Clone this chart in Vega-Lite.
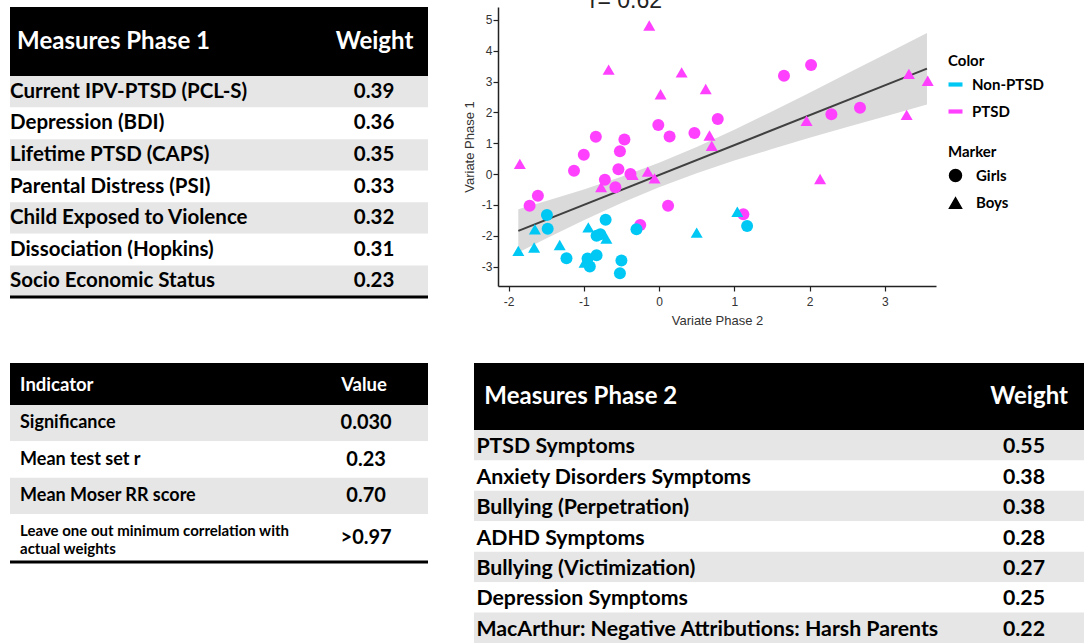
{
  "$schema": "https://vega.github.io/schema/vega-lite/v6.json",
  "padding": {"left": 8, "top": -11, "right": 0, "bottom": 0},
  "autosize": {"type": "pad"},
  "background": "white",
  "config": {"view": {"stroke": null}, "font": "Lato", "axis": {"labelOverlap": false}, "axisY": {"labelOverlap": false}},
  "datasets": {
    "t1": [
      {"row": 1, "measure": "Current IPV-PTSD (PCL-S)", "weight": 0.39},
      {"row": 2, "measure": "Depression (BDI)", "weight": 0.36},
      {"row": 3, "measure": "Lifetime PTSD (CAPS)", "weight": 0.35},
      {"row": 4, "measure": "Parental Distress (PSI)", "weight": 0.33},
      {"row": 5, "measure": "Child Exposed to Violence", "weight": 0.32},
      {"row": 6, "measure": "Dissociation (Hopkins)", "weight": 0.31},
      {"row": 7, "measure": "Socio Economic Status", "weight": 0.23}
    ],
    "t2": [
      {"row": 1, "indicator": "Significance", "value": "0.030"},
      {"row": 2, "indicator": "Mean test set r", "value": "0.23"},
      {"row": 3, "indicator": "Mean Moser RR score", "value": "0.70"}
    ],
    "t2last": [
      {"row": 4, "indicator": "Leave one out minimum correlation with\nactual weights", "value": ">0.97"}
    ],
    "t3": [
      {"row": 1, "measure": "PTSD Symptoms", "weight": 0.55},
      {"row": 2, "measure": "Anxiety Disorders Symptoms", "weight": 0.38},
      {"row": 3, "measure": "Bullying (Perpetration)", "weight": 0.38},
      {"row": 4, "measure": "ADHD Symptoms", "weight": 0.28},
      {"row": 5, "measure": "Bullying (Victimization)", "weight": 0.27},
      {"row": 6, "measure": "Depression Symptoms", "weight": 0.25},
      {"row": 7, "measure": "MacArthur: Negative Attributions: Harsh Parents", "weight": 0.22}
    ],
    "band": [
      {"x": -1.87, "lo": -2.54, "hi": -1.14},
      {"x": -1.5, "lo": -2.09, "hi": -0.87},
      {"x": -1.0, "lo": -1.50, "hi": -0.50},
      {"x": -0.5, "lo": -0.94, "hi": -0.09},
      {"x": 0.0, "lo": -0.43, "hi": 0.37},
      {"x": 0.5, "lo": 0.03, "hi": 0.88},
      {"x": 1.0, "lo": 0.44, "hi": 1.44},
      {"x": 1.5, "lo": 0.81, "hi": 2.03},
      {"x": 2.0, "lo": 1.18, "hi": 2.64},
      {"x": 2.5, "lo": 1.53, "hi": 3.26},
      {"x": 3.0, "lo": 1.87, "hi": 3.88},
      {"x": 3.56, "lo": 2.26, "hi": 4.58}
    ],
    "fit": [
      {"x": -1.87, "y": -1.84},
      {"x": 3.56, "y": 3.42}
    ],
    "pts": [
      {"x": -0.13, "y": 4.82, "group": "PTSD", "sex": "Boys"},
      {"x": -0.67, "y": 3.39, "group": "PTSD", "sex": "Boys"},
      {"x": 0.30, "y": 3.30, "group": "PTSD", "sex": "Boys"},
      {"x": 0.02, "y": 2.59, "group": "PTSD", "sex": "Boys"},
      {"x": 0.62, "y": 2.76, "group": "PTSD", "sex": "Boys"},
      {"x": 0.67, "y": 1.25, "group": "PTSD", "sex": "Boys"},
      {"x": 0.70, "y": 0.92, "group": "PTSD", "sex": "Boys"},
      {"x": -1.85, "y": 0.33, "group": "PTSD", "sex": "Boys"},
      {"x": -0.15, "y": 0.08, "group": "PTSD", "sex": "Boys"},
      {"x": -0.06, "y": -0.14, "group": "PTSD", "sex": "Boys"},
      {"x": -0.35, "y": -0.02, "group": "PTSD", "sex": "Boys"},
      {"x": -0.77, "y": -0.42, "group": "PTSD", "sex": "Boys"},
      {"x": 1.96, "y": 1.73, "group": "PTSD", "sex": "Boys"},
      {"x": 3.32, "y": 3.25, "group": "PTSD", "sex": "Boys"},
      {"x": 3.57, "y": 3.03, "group": "PTSD", "sex": "Boys"},
      {"x": 3.29, "y": 1.92, "group": "PTSD", "sex": "Boys"},
      {"x": 2.14, "y": -0.16, "group": "PTSD", "sex": "Boys"},
      {"x": 1.66, "y": 3.19, "group": "PTSD", "sex": "Girls"},
      {"x": 2.02, "y": 3.54, "group": "PTSD", "sex": "Girls"},
      {"x": 2.29, "y": 1.94, "group": "PTSD", "sex": "Girls"},
      {"x": 2.67, "y": 2.15, "group": "PTSD", "sex": "Girls"},
      {"x": 0.78, "y": 1.79, "group": "PTSD", "sex": "Girls"},
      {"x": 0.47, "y": 1.33, "group": "PTSD", "sex": "Girls"},
      {"x": -0.01, "y": 1.59, "group": "PTSD", "sex": "Girls"},
      {"x": 0.14, "y": 1.22, "group": "PTSD", "sex": "Girls"},
      {"x": -0.84, "y": 1.21, "group": "PTSD", "sex": "Girls"},
      {"x": -0.46, "y": 1.12, "group": "PTSD", "sex": "Girls"},
      {"x": -1.00, "y": 0.63, "group": "PTSD", "sex": "Girls"},
      {"x": -0.52, "y": 0.74, "group": "PTSD", "sex": "Girls"},
      {"x": -1.13, "y": 0.11, "group": "PTSD", "sex": "Girls"},
      {"x": -0.54, "y": 0.16, "group": "PTSD", "sex": "Girls"},
      {"x": -0.38, "y": 0.0, "group": "PTSD", "sex": "Girls"},
      {"x": -0.72, "y": -0.18, "group": "PTSD", "sex": "Girls"},
      {"x": -0.58, "y": -0.43, "group": "PTSD", "sex": "Girls"},
      {"x": -1.61, "y": -0.70, "group": "PTSD", "sex": "Girls"},
      {"x": -1.72, "y": -1.03, "group": "PTSD", "sex": "Girls"},
      {"x": 0.12, "y": -1.03, "group": "PTSD", "sex": "Girls"},
      {"x": 1.12, "y": -1.30, "group": "PTSD", "sex": "Girls"},
      {"x": -0.25, "y": -1.65, "group": "PTSD", "sex": "Girls"},
      {"x": -1.49, "y": -1.33, "group": "Non-PTSD", "sex": "Girls"},
      {"x": -1.48, "y": -1.77, "group": "Non-PTSD", "sex": "Girls"},
      {"x": -0.71, "y": -1.48, "group": "Non-PTSD", "sex": "Girls"},
      {"x": -0.30, "y": -1.79, "group": "Non-PTSD", "sex": "Girls"},
      {"x": -0.83, "y": -2.00, "group": "Non-PTSD", "sex": "Girls"},
      {"x": -0.78, "y": -1.95, "group": "Non-PTSD", "sex": "Girls"},
      {"x": -1.23, "y": -2.73, "group": "Non-PTSD", "sex": "Girls"},
      {"x": -0.95, "y": -2.74, "group": "Non-PTSD", "sex": "Girls"},
      {"x": -0.83, "y": -2.63, "group": "Non-PTSD", "sex": "Girls"},
      {"x": -0.92, "y": -3.00, "group": "Non-PTSD", "sex": "Girls"},
      {"x": -0.50, "y": -2.80, "group": "Non-PTSD", "sex": "Girls"},
      {"x": -0.52, "y": -3.22, "group": "Non-PTSD", "sex": "Girls"},
      {"x": 1.17, "y": -1.68, "group": "Non-PTSD", "sex": "Girls"},
      {"x": -1.65, "y": -1.79, "group": "Non-PTSD", "sex": "Boys"},
      {"x": -1.87, "y": -2.49, "group": "Non-PTSD", "sex": "Boys"},
      {"x": -1.66, "y": -2.38, "group": "Non-PTSD", "sex": "Boys"},
      {"x": -1.32, "y": -2.30, "group": "Non-PTSD", "sex": "Boys"},
      {"x": -0.94, "y": -1.73, "group": "Non-PTSD", "sex": "Boys"},
      {"x": -0.70, "y": -2.09, "group": "Non-PTSD", "sex": "Boys"},
      {"x": -0.99, "y": -2.87, "group": "Non-PTSD", "sex": "Boys"},
      {"x": 0.50, "y": -1.90, "group": "Non-PTSD", "sex": "Boys"},
      {"x": 1.04, "y": -1.22, "group": "Non-PTSD", "sex": "Boys"}
    ]
  },
  "spacing": 36,
  "vconcat": [
    {
      "spacing": 33,
      "hconcat": [
        {
          "spacing": 0,
          "vconcat": [
            {
              "width": 418, "height": 69,
              "view": {"fill": "#000000", "stroke": null},
              "data": {"values": [{"a": "Measures Phase 1", "b": "Weight"}]},
              "layer": [
                {"mark": {"type": "text", "align": "left", "font": "Lato", "fontWeight": "bold", "fontSize": 24, "color": "#ffffff"},
                 "encoding": {"x": {"datum": 0.017, "type": "quantitative", "scale": {"domain": [0, 1]}, "axis": null}, "text": {"field": "a"}}},
                {"mark": {"type": "text", "align": "center", "font": "Lato", "fontWeight": "bold", "fontSize": 24, "color": "#ffffff"},
                 "encoding": {"x": {"datum": 0.872, "type": "quantitative"}, "text": {"field": "b"}}}
              ]
            },
            {
              "width": 418, "height": 221,
              "data": {"name": "t1"},
              "encoding": {"y": {"field": "row", "type": "ordinal", "axis": null, "scale": {"paddingInner": 0, "paddingOuter": 0}}},
              "layer": [
                {"mark": {"type": "rect"},
                 "encoding": {"fill": {"condition": {"test": "datum.row % 2 == 1", "value": "#e6e6e6"}, "value": "#ffffff"}}},
                {"mark": {"type": "text", "align": "left", "font": "Lato", "fontWeight": "bold", "fontSize": 20.5, "color": "#000000"},
                 "encoding": {"x": {"datum": 0.0, "type": "quantitative", "scale": {"domain": [0, 1]}, "axis": null}, "text": {"field": "measure"}}},
                {"mark": {"type": "text", "align": "center", "font": "Lato", "fontWeight": "bold", "fontSize": 20.5, "color": "#000000"},
                 "encoding": {"x": {"datum": 0.871, "type": "quantitative"}, "text": {"field": "weight", "format": ".2f"}}},
                {"transform": [{"filter": "datum.row == 7"}],
                 "mark": {"type": "rule", "strokeWidth": 3, "color": "#000000"},
                 "encoding": {"y": {"field": "row", "type": "ordinal", "bandPosition": 1}}}
              ]
            }
          ]
        },
        {
          "width": 438, "height": 279,
          "view": {"stroke": null},
          "layer": [
            {"data": {"name": "band"},
             "mark": {"type": "area", "color": "#dadada", "opacity": 1},
             "encoding": {
               "x": {"field": "x", "type": "quantitative", "scale": {"domain": [-2.14, 3.68], "nice": false, "zero": false},
                     "axis": {"title": "Variate Phase 2", "values": [-2, -1, 0, 1, 2, 3], "labelExpr": "'' + datum.value", "labelOverlap": false, "grid": false, "domainColor": "#222222", "domainWidth": 1.5, "tickColor": "#222222", "tickSize": 5, "tickWidth": 1.2, "labelFont": "Liberation Sans", "labelFontSize": 12, "labelColor": "#333333", "labelPadding": 5, "titleFont": "Liberation Sans", "titleFontSize": 13, "titleFontWeight": "normal", "titleColor": "#333333", "titlePadding": 7}},
               "y": {"field": "lo", "type": "quantitative", "scale": {"domain": [-3.63, 5.42], "nice": false, "zero": false},
                     "axis": {"title": "Variate Phase 1", "values": [-3, -2, -1, 0, 1, 2, 3, 4, 5], "tickCount": 9, "labelExpr": "'' + datum.value", "labelOverlap": false, "labelSeparation": 0, "grid": false, "domainColor": "#222222", "domainWidth": 1.5, "tickColor": "#222222", "tickSize": 5, "tickWidth": 1.2, "labelFont": "Liberation Sans", "labelFontSize": 12, "labelColor": "#333333", "labelPadding": 1, "titleFont": "Liberation Sans", "titleFontSize": 13, "titleFontWeight": "normal", "titleColor": "#333333", "titlePadding": 5}},
               "y2": {"field": "hi"}
             }},
            {"data": {"name": "fit"},
             "mark": {"type": "line", "color": "#404040", "strokeWidth": 2},
             "encoding": {"x": {"field": "x", "type": "quantitative"}, "y": {"field": "y", "type": "quantitative"}}},
            {"data": {"name": "pts"},
             "mark": {"type": "point", "filled": true, "size": 144, "opacity": 1},
             "encoding": {
               "x": {"field": "x", "type": "quantitative"},
               "y": {"field": "y", "type": "quantitative"},
               "color": {"field": "group", "type": "nominal", "scale": {"domain": ["Non-PTSD", "PTSD"], "range": ["#00c8f5", "#ff40ff"]},
                         "legend": {"title": "Color", "orient": "none", "legendX": 938, "legendY": 47, "padding": 0, "symbolType": "M-1,-0.3H1V0.3H-1Z", "symbolSize": 196, "symbolStrokeWidth": 0, "labelFont": "Lato", "labelFontWeight": "bold", "labelFontSize": 15, "labelColor": "#000000", "titleFont": "Lato", "titleFontWeight": "bold", "titleFontSize": 15, "titleColor": "#000000", "labelOffset": 9, "rowPadding": 11, "titlePadding": 8}},
               "shape": {"field": "sex", "type": "nominal", "scale": {"domain": ["Girls", "Boys"], "range": ["circle", "triangle-up"]},
                         "legend": {"title": "Marker", "orient": "none", "legendX": 938, "legendY": 138, "padding": 0, "symbolSize": 144, "symbolFillColor": "#000000", "symbolStrokeColor": "#000000", "labelFont": "Lato", "labelFontWeight": "bold", "labelFontSize": 15, "labelColor": "#000000", "titleFont": "Lato", "titleFontWeight": "bold", "titleFontSize": 15, "titleColor": "#000000", "labelOffset": 13, "rowPadding": 9.5, "titlePadding": 8,
                                    "encode": {"symbols": {"update": {"fill": {"value": "#000000"}, "stroke": {"value": "#000000"}}}}}}
             }},
            {"data": {"values": [{"label": "r= 0.62"}]},
             "mark": {"type": "text", "font": "Liberation Sans", "fontSize": 23, "baseline": "alphabetic", "align": "center", "color": "#222222"},
             "encoding": {"x": {"datum": -0.44, "type": "quantitative"}, "y": {"datum": 5.4, "type": "quantitative"}, "text": {"field": "label"}}}
          ]
        }
      ]
    },
    {
      "spacing": 44,
      "hconcat": [
        {
          "spacing": 0,
          "vconcat": [
            {
              "width": 418, "height": 42,
              "view": {"fill": "#000000", "stroke": null},
              "data": {"values": [{"a": "Indicator", "b": "Value"}]},
              "layer": [
                {"mark": {"type": "text", "align": "left", "font": "Lato", "fontWeight": "bold", "fontSize": 18.5, "color": "#ffffff", "dy": 1},
                 "encoding": {"x": {"datum": 0.024, "type": "quantitative", "scale": {"domain": [0, 1]}, "axis": null}, "text": {"field": "a"}}},
                {"mark": {"type": "text", "align": "center", "font": "Lato", "fontWeight": "bold", "fontSize": 18.5, "color": "#ffffff", "dy": 1},
                 "encoding": {"x": {"datum": 0.847, "type": "quantitative"}, "text": {"field": "b"}}}
              ]
            },
            {
              "width": 418, "height": 109,
              "data": {"name": "t2"},
              "encoding": {"y": {"field": "row", "type": "ordinal", "axis": null, "scale": {"paddingInner": 0, "paddingOuter": 0}}},
              "layer": [
                {"mark": {"type": "rect"},
                 "encoding": {"fill": {"condition": {"test": "datum.row % 2 == 1", "value": "#e6e6e6"}, "value": "#ffffff"}}},
                {"mark": {"type": "text", "align": "left", "font": "Lato", "fontWeight": "bold", "fontSize": 18, "color": "#000000"},
                 "encoding": {"x": {"datum": 0.024, "type": "quantitative", "scale": {"domain": [0, 1]}, "axis": null}, "text": {"field": "indicator"}}},
                {"mark": {"type": "text", "align": "center", "font": "Lato", "fontWeight": "bold", "fontSize": 20, "color": "#000000"},
                 "encoding": {"x": {"datum": 0.852, "type": "quantitative"}, "text": {"field": "value"}}}
              ]
            },
            {
              "width": 418, "height": 48,
              "data": {"name": "t2last"},
              "encoding": {"y": {"field": "row", "type": "ordinal", "axis": null, "scale": {"paddingInner": 0, "paddingOuter": 0}}},
              "layer": [
                {"mark": {"type": "text", "align": "left", "font": "Lato", "fontWeight": "bold", "fontSize": 15, "lineHeight": 18, "lineBreak": "\n", "dy": -7, "color": "#000000"},
                 "encoding": {"x": {"datum": 0.024, "type": "quantitative", "scale": {"domain": [0, 1]}, "axis": null}, "text": {"field": "indicator"}}},
                {"mark": {"type": "text", "align": "center", "font": "Lato", "fontWeight": "bold", "fontSize": 20, "color": "#000000"},
                 "encoding": {"x": {"datum": 0.852, "type": "quantitative"}, "text": {"field": "value"}}},
                {"mark": {"type": "rule", "strokeWidth": 3, "color": "#000000"},
                 "encoding": {"y": {"field": "row", "type": "ordinal", "bandPosition": 1}}}
              ]
            }
          ]
        },
        {
          "spacing": 0,
          "vconcat": [
            {
              "width": 610, "height": 67,
              "view": {"fill": "#000000", "stroke": null},
              "data": {"values": [{"a": "Measures Phase 2", "b": "Weight"}]},
              "layer": [
                {"mark": {"type": "text", "align": "left", "font": "Lato", "fontWeight": "bold", "fontSize": 24, "color": "#ffffff"},
                 "encoding": {"x": {"datum": 0.017, "type": "quantitative", "scale": {"domain": [0, 1]}, "axis": null}, "text": {"field": "a"}}},
                {"mark": {"type": "text", "align": "center", "font": "Lato", "fontWeight": "bold", "fontSize": 24, "color": "#ffffff"},
                 "encoding": {"x": {"datum": 0.910, "type": "quantitative"}, "text": {"field": "b"}}}
              ]
            },
            {
              "width": 610, "height": 213,
              "data": {"name": "t3"},
              "encoding": {"y": {"field": "row", "type": "ordinal", "axis": null, "scale": {"paddingInner": 0, "paddingOuter": 0}}},
              "layer": [
                {"mark": {"type": "rect"},
                 "encoding": {"fill": {"condition": {"test": "datum.row % 2 == 1", "value": "#e6e6e6"}, "value": "#ffffff"}}},
                {"mark": {"type": "text", "align": "left", "font": "Lato", "fontWeight": "bold", "fontSize": 21.3, "color": "#000000", "dy": 2},
                 "encoding": {"x": {"datum": 0.004, "type": "quantitative", "scale": {"domain": [0, 1]}, "axis": null}, "text": {"field": "measure"}}},
                {"mark": {"type": "text", "align": "center", "font": "Lato", "fontWeight": "bold", "fontSize": 21.3, "color": "#000000", "dy": 2},
                 "encoding": {"x": {"datum": 0.9016, "type": "quantitative"}, "text": {"field": "weight", "format": ".2f"}}}
              ]
            }
          ]
        }
      ]
    }
  ]
}
